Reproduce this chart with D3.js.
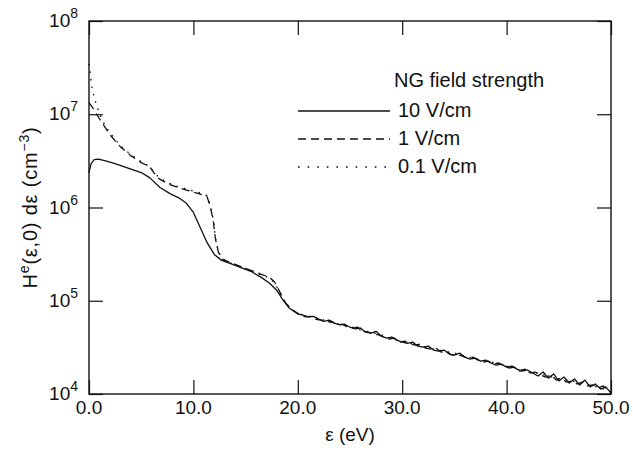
<!DOCTYPE html>
<html>
<head>
<meta charset="utf-8">
<script src="https://cdn.jsdelivr.net/npm/d3@7"></script>
<style>
  html, body { margin: 0; padding: 0; background: #fff; }
  svg { display: block; }
  text { font-family: "Liberation Sans", Arial, Helvetica, sans-serif; fill: #111; }
</style>
</head>
<body>
<svg id="chart" width="633" height="451"></svg>
<script>
// ---------- data ----------
const xTicks = [0, 10, 20, 30, 40, 50];
const xTickLabels = ["0.0", "10.0", "20.0", "30.0", "40.0", "50.0"];
const yTicks = [1e4, 1e5, 1e6, 1e7, 1e8];
const yTickExponents = ["4", "5", "6", "7", "8"];
const legendTitle = "NG field strength";
const seriesNames = ["10 V/cm", "1 V/cm", "0.1 V/cm"];

// 10 V/cm (solid)
const energy10 = [0, 0.2, 0.5, 0.9, 1.5, 2.5, 3.6, 5, 5.8, 6.8, 7.8, 8.6, 9.3, 10, 10.7, 11.3, 12, 12.7,
  13.5, 14.5, 15.5, 16.5, 17.3, 18, 18.6, 19.2,
  20, 20.5, 21, 21.5, 22, 22.5, 23, 23.5, 24, 24.5, 25, 25.5, 26, 26.5, 27, 27.5, 28, 28.5, 29, 29.5,
  30, 30.5, 31, 31.5, 32, 32.5, 33, 33.5, 34, 34.5, 35, 35.5, 36, 36.5, 37, 37.5, 38, 38.5, 39, 39.5,
  40, 40.5, 41, 41.5, 42, 42.5, 43, 43.5, 44, 44.5, 45, 45.5, 46, 46.5, 47, 47.5, 48, 48.5, 49, 49.5, 50];
const values10 = [2.37e6, 2.96e6, 3.26e6, 3.30e6, 3.18e6, 2.96e6, 2.68e6, 2.37e6, 2.09e6, 1.64e6, 1.40e6, 1.27e6,
  1.12e6, 8.85e5, 5.96e5, 4.22e5, 3.14e5, 2.71e5, 2.52e5, 2.28e5, 2.07e5, 1.78e5, 1.54e5, 1.29e5, 1.01e5, 8.3e4,
  7.2e4, 7.0e4, 6.7e4, 6.8e4, 6.35e4, 6.0e4, 6.2e4, 5.75e4, 5.5e4, 5.6e4,
  5.2e4, 5.0e4, 5.1e4, 4.6e4, 4.5e4, 4.7e4, 4.17e4, 3.97e4, 4.07e4, 3.78e4,
  3.6e4, 3.5e4, 3.6e4, 3.26e4, 3.18e4, 3.26e4, 2.96e4, 2.88e4, 2.96e4, 2.68e4,
  2.61e4, 2.75e4, 2.49e4, 2.37e4, 2.43e4, 2.25e4, 2.31e4, 2.15e4, 2.04e4, 2.09e4,
  1.94e4, 1.99e4, 1.85e4, 1.76e4, 1.81e4, 1.68e4, 1.56e4, 1.72e4, 1.48e4, 1.64e4,
  1.38e4, 1.52e4, 1.31e4, 1.45e4, 1.25e4, 1.41e4, 1.19e4, 1.28e4, 1.13e4, 1.19e4, 1.02e4];

// 1 V/cm (dashed)
const energy1 = [0, 0.3, 1, 2, 3, 4, 5, 5.8, 6.2, 6.7, 7.5, 8.5, 9.5, 10.5, 11.3, 11.6, 11.9, 12.1, 12.4, 12.8,
  13.5, 14.5, 15.5, 16.5, 17.3, 17.8, 18.3, 18.8, 19.4, 20,
  20.25, 20.75, 21.25, 21.75, 22.25, 22.75, 23.25, 23.75, 24.25, 24.75,
  25.25, 25.75, 26.25, 26.75, 27.25, 27.75, 28.25, 28.75, 29.25, 29.75,
  30.25, 30.75, 31.25, 31.75, 32.25, 32.75, 33.25, 33.75, 34.25, 34.75,
  35.25, 35.75, 36.25, 36.75, 37.25, 37.75, 38.25, 38.75, 39.25, 39.75,
  40.25, 40.75, 41.25, 41.75, 42.25, 42.75, 43.25, 43.75, 44.25, 44.75,
  45.25, 45.75, 46.25, 46.75, 47.25, 47.75, 48.25, 48.75, 49.25, 49.75];
const values1 = [1.33e7, 1.20e7, 8.95e6, 6.04e6, 4.49e6, 3.60e6, 3.03e6, 2.75e6, 2.37e6, 2.04e6, 1.81e6, 1.64e6,
  1.52e6, 1.41e6, 1.31e6, 1.05e6, 7.26e5, 4.66e5, 3.30e5, 2.78e5, 2.58e5, 2.34e5, 2.12e5, 1.92e5, 1.78e5, 1.58e5,
  1.23e5, 9.6e4, 8.1e4, 7.35e4,
  7.0e4, 6.7e4, 6.8e4, 6.3e4, 6.2e4, 5.9e4, 6.0e4, 5.5e4, 5.6e4, 5.2e4,
  5.1e4, 5.2e4, 4.7e4, 4.6e4, 4.4e4, 4.3e4, 4.07e4, 3.88e4, 3.97e4, 3.6e4,
  3.69e4, 3.43e4, 3.34e4, 3.43e4, 3.1e4, 3.03e4, 3.1e4, 2.81e4, 2.88e4, 2.61e4,
  2.68e4, 2.55e4, 2.43e4, 2.49e4, 2.31e4, 2.2e4, 2.25e4, 2.09e4, 2.15e4, 1.99e4,
  1.9e4, 1.94e4, 1.76e4, 1.85e4, 1.68e4, 1.72e4, 1.6e4, 1.52e4, 1.6e4, 1.41e4,
  1.48e4, 1.34e4, 1.38e4, 1.28e4, 1.34e4, 1.22e4, 1.25e4, 1.16e4, 1.22e4, 1.07e4];

// 0.1 V/cm (dotted)
const energy01 = [0, 0.15, 0.3, 0.6, 1, 1.5, 2, 3, 4, 5, 5.8, 6.2, 6.7, 7.5, 8.5, 9.5, 10.5, 11.3, 11.6, 11.9,
  12.1, 12.4, 12.8, 13.5, 14.5, 15.5, 16.5, 17.3, 17.8, 18.3, 18.8, 19.4,
  20, 21, 22, 23, 24, 25, 26, 27, 28, 29, 30, 31, 32, 33, 34, 35, 36, 37, 38, 39,
  40, 41, 42, 43, 44, 45, 46, 47, 48, 49, 50];
const values01 = [3.47e7, 2.58e7, 1.87e7, 1.39e7, 1.01e7, 7.72e6, 6.34e6, 4.60e6, 3.69e6, 3.10e6, 2.75e6, 2.43e6,
  2.09e6, 1.85e6, 1.68e6, 1.56e6, 1.45e6, 1.34e6, 1.08e6, 7.44e5, 4.8e5, 3.35e5, 2.8e5, 2.56e5, 2.32e5, 2.1e5,
  1.9e5, 1.75e5, 1.55e5, 1.2e5, 9.5e4, 8.0e4,
  7.35e4, 6.8e4, 6.5e4, 5.9e4, 5.6e4, 5.3e4, 4.84e4, 4.6e4, 4.3e4, 3.88e4,
  3.69e4, 3.43e4, 3.26e4, 3.03e4, 2.88e4, 2.75e4, 2.55e4, 2.37e4, 2.25e4, 2.15e4,
  1.99e4, 1.9e4, 1.72e4, 1.68e4, 1.56e4, 1.45e4, 1.41e4, 1.31e4, 1.25e4, 1.16e4, 1.05e4];

// ---------- layout ----------
const svg = d3.select("#chart");
const margin = { left: 89, right: 22, top: 21, bottom: 57 };
const W = 633, H = 451;
const x0 = margin.left, x1 = W - margin.right, y0 = H - margin.bottom, y1 = margin.top;

const x = d3.scaleLinear().domain([0, 50]).range([x0, x1]);
const y = d3.scaleLog().domain([1e4, 1e8]).range([y0, y1]);

const tickLen = 14;
const fsTick = 19, fsLegend = 20, fsTitle = 20;

// frame
svg.append("rect").attr("x", x0).attr("y", y1).attr("width", x1 - x0).attr("height", y0 - y1)
  .attr("fill", "none").attr("stroke", "#111").attr("stroke-width", 1.4);

// axes with inward ticks on all four sides
const axStyle = g => { g.select(".domain").remove(); g.selectAll("line").attr("stroke", "#111").attr("stroke-width", 1.2); g.selectAll("text").remove(); };
svg.append("g").attr("transform", `translate(0,${y0})`)
  .call(d3.axisBottom(x).tickValues(xTicks).tickSize(-tickLen)).call(axStyle);
svg.append("g").attr("transform", `translate(0,${y1})`)
  .call(d3.axisTop(x).tickValues(xTicks).tickSize(-tickLen)).call(axStyle);
svg.append("g").attr("transform", `translate(${x0},0)`)
  .call(d3.axisLeft(y).tickValues(yTicks).tickSize(-tickLen)).call(axStyle);
svg.append("g").attr("transform", `translate(${x1},0)`)
  .call(d3.axisRight(y).tickValues(yTicks).tickSize(-tickLen)).call(axStyle);

// x tick labels
svg.append("g").selectAll("text").data(xTicks).join("text")
  .attr("x", d => x(d)).attr("y", y0 + 20)
  .attr("text-anchor", "middle").attr("font-size", fsTick)
  .text((d, i) => xTickLabels[i]);

// y tick labels with superscripts
const yl = svg.append("g").selectAll("text").data(yTicks).join("text")
  .attr("x", x0 - 11).attr("y", d => y(d) + 6)
  .attr("text-anchor", "end").attr("font-size", fsTick);
yl.append("tspan").text("10");
yl.append("tspan").attr("dy", -9).attr("font-size", 14).text((d, i) => yTickExponents[i]);

// axis titles
svg.append("text").attr("x", (x0 + x1) / 2).attr("y", y0 + 47)
  .attr("text-anchor", "middle").attr("font-size", fsTick).text("ε (eV)");

const yt = svg.append("text").attr("transform", `translate(37,${(y0 + y1) / 2}) rotate(-90)`)
  .attr("text-anchor", "middle").attr("font-size", fsTitle).attr("letter-spacing", 0.8);
yt.append("tspan").text("H");
yt.append("tspan").attr("dy", -8).attr("font-size", 14).text("e");
yt.append("tspan").attr("dy", 8).text("(ε,0) dε (cm");
yt.append("tspan").attr("dy", -8).attr("font-size", 14).text("−3");
yt.append("tspan").attr("dy", 8).text(")");

// curves
const line = d3.line().x(d => x(d[0])).y(d => y(d[1]));
const series = [
  { e: energy01, v: values01, dash: "1.6,6" },
  { e: energy1, v: values1, dash: "8,5" },
  { e: energy10, v: values10, dash: null }
];
const plot = svg.append("g");
series.forEach(s => {
  plot.append("path").datum(s.e.map((e, i) => [e, s.v[i]]))
    .attr("d", line).attr("fill", "none").attr("stroke", "#111")
    .attr("stroke-width", 1.3).attr("stroke-linejoin", "round")
    .attr("stroke-dasharray", s.dash);
});

// legend
const lg = svg.append("g");
lg.append("text").attr("x", 394).attr("y", 87).attr("font-size", fsLegend).text(legendTitle);
const legendDash = [null, "8,5", "1.6,8"];
[117, 145, 173].forEach((by, i) => {
  lg.append("line").attr("x1", 298).attr("x2", 390).attr("y1", by - 6).attr("y2", by - 6)
    .attr("stroke", "#111").attr("stroke-width", 1.3).attr("stroke-dasharray", legendDash[i]);
  lg.append("text").attr("x", 398).attr("y", by).attr("font-size", fsLegend).text(seriesNames[i]);
});
</script>
</body>
</html>
